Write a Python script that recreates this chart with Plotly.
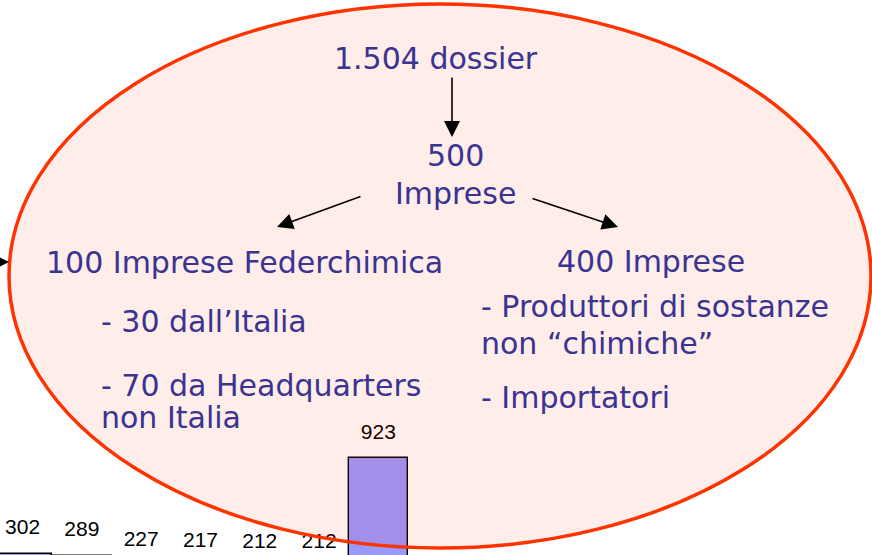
import plotly.graph_objects as go

# ---- data ----
bar_values = [302, 289, 227, 217, 212, 212, 923]
bar_labels = [str(v) for v in bar_values]
bar_index = list(range(len(bar_values)))

W, H = 872, 555
TXT = "#3a3391"
FONT = "DejaVu Sans"
FS = 30


def px(x):
    return x / W


def py(y):
    return 1 - y / H


fig = go.Figure()

fig.add_trace(go.Bar(
    x=bar_index, y=bar_values,
    marker=dict(color="#9999FF", line=dict(color="#000000", width=1.4)),
    hoverinfo="skip", showlegend=False,
))
fig.add_trace(go.Scatter(
    x=bar_index, y=bar_values, text=bar_labels,
    mode="markers+text", textposition="top center",
    marker=dict(size=21, opacity=0),
    textfont=dict(family="Liberation Sans, Arial", size=21, color="#000000"),
    hoverinfo="skip", showlegend=False,
))

# ellipse (above the chart, translucent)
fig.add_shape(type="circle", xref="paper", yref="paper",
              x0=px(9), x1=px(871), y0=py(548), y1=py(4),
              line=dict(color="#FF3300", width=3.5),
              fillcolor="rgba(255,51,0,0.087)", layer="above")

texts = [
    ("1.504 dossier", 435.5, 58.0, "center"),
    ("500", 455, 155.3, "center"),
    ("Imprese", 455, 193.6, "center"),
    ("100 Imprese Federchimica", 244, 262.3, "center"),
    ("- 30 dall’Italia", 101, 321.3, "left"),
    ("- 70 da Headquarters", 101, 385.1, "left"),
    ("non Italia", 100.5, 417.8, "left"),
    ("400 Imprese", 651, 261.3, "center"),
    ("- Produttori di sostanze", 481, 306.3, "left"),
    ("non “chimiche”", 480.5, 343.6, "left"),
    ("- Importatori", 481, 397.8, "left"),
]
for t, x, y, xa in texts:
    fig.add_annotation(text=t, x=px(x), y=py(y), xref="paper", yref="paper",
                       xanchor=xa, yanchor="middle", showarrow=False,
                       borderpad=0, borderwidth=0,
                       font=dict(family=FONT, size=FS, color=TXT))

arrows = [
    ((452, 76), (452, 137)),
    ((362, 196), (277, 227)),
    ((531, 198), (618, 227)),
    ((-40, 262), (9, 262)),
]
for (tx, ty), (hx, hy) in arrows:
    fig.add_annotation(text="", x=px(hx), y=py(hy), xref="paper", yref="paper",
                       ax=tx - hx, ay=ty - hy, axref="pixel", ayref="pixel",
                       showarrow=True, arrowhead=2, arrowsize=2, arrowwidth=1.6,
                       arrowcolor="#000000")

fig.update_layout(
    width=W, height=H,
    margin=dict(l=0, r=0, t=0, b=0),
    paper_bgcolor="white", plot_bgcolor="rgba(0,0,0,0)",
    bargap=0, showlegend=False,
    xaxis=dict(range=[-0.381, 14.324], visible=False, fixedrange=True),
    yaxis=dict(range=[293.5, 3902.6], visible=False, fixedrange=True),
)

fig.write_html(
    "out.html",
    config={"displayModeBar": False},
    post_script="document.body.style.margin='0';document.body.style.overflow='hidden';",
)
